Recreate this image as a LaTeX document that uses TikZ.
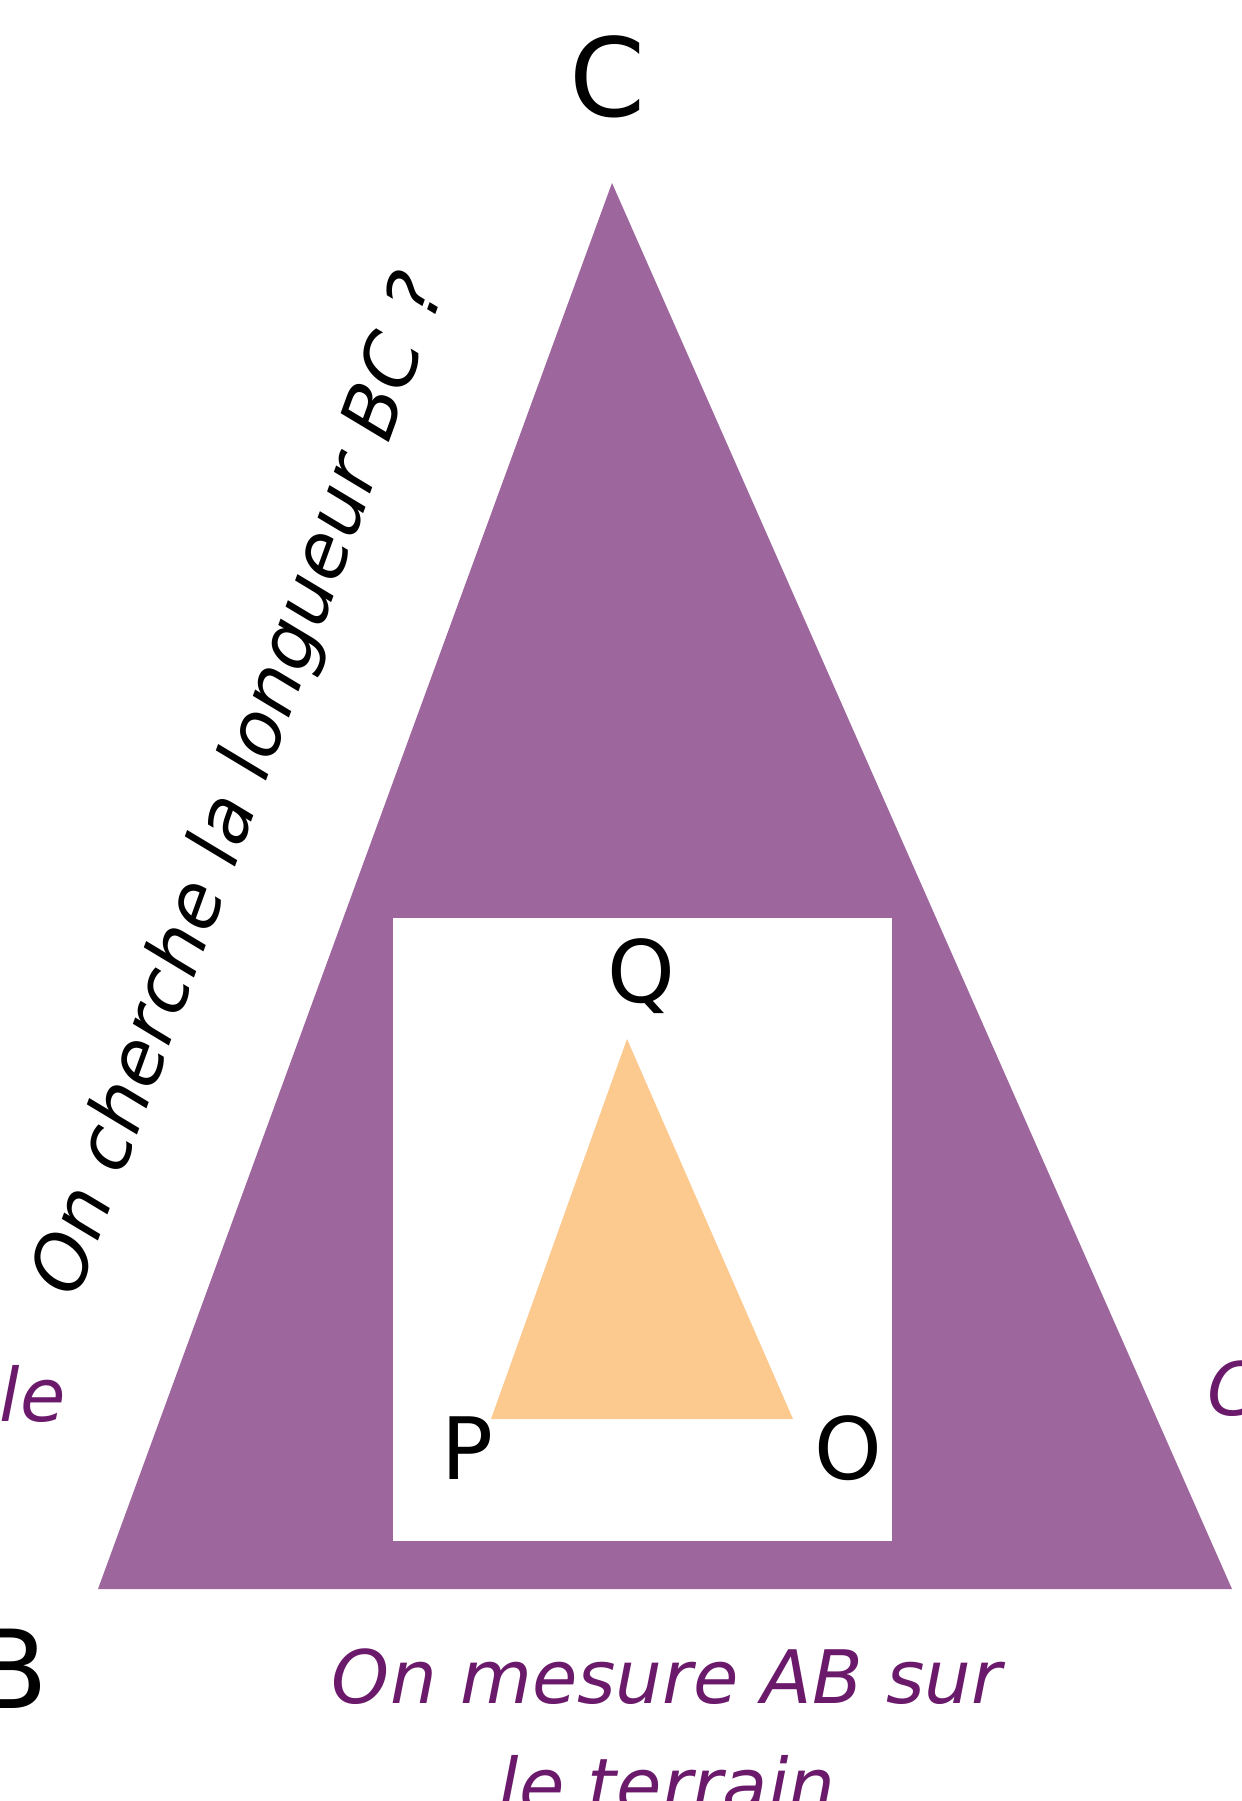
\documentclass[tikz,border=0pt]{standalone}
\usepackage{fontspec}
\setmainfont{DejaVu Sans}

\definecolor{bigtri}{HTML}{9D679D}
\definecolor{smalltri}{HTML}{FCC98E}
\definecolor{notecol}{HTML}{6B1A6B}

\tikzset{
  bigvertex/.style={inner sep=0pt, font=\fontsize{62}{62}\selectfont},
  smallvertex/.style={inner sep=0pt, font=\fontsize{49}{49}\selectfont},
  note/.style={inner sep=0pt, text=notecol, font=\fontsize{42}{61}\selectfont\itshape},
}

\begin{document}
\begin{tikzpicture}[x=0.02cm,y=-0.02cm]
  \useasboundingbox (0,0) rectangle (1241,1801);
  \clip (0,0) rectangle (1241,1801);

  % terrain triangle ABC and the small model PQO
  \fill[bigtri] (98,1589) -- (612,183) -- (1232,1589) -- cycle;
  \fill[white] (393,918) rectangle (892,1541);
  \fill[smalltri] (491,1419) -- (627,1039) -- (793,1419) -- cycle;

  \node[bigvertex,anchor=base] (c) at (608,117) {C};
  \node[bigvertex,anchor=base east] (b) at (49,1708) {B};

  \node[smallvertex,anchor=base] (q) at (641,1002) {Q};
  \node[smallvertex,anchor=base] (p) at (467,1479) {P};
  \node[smallvertex,anchor=base] (o) at (848,1479) {O};

  % notes
  \node[note,text=black,rotate=70,anchor=base,font=\fontsize{43}{61}\selectfont\itshape] (question) at (262,793) {On cherche la longueur BC ?};
  \node[note,align=center,anchor=base] (measure) at (667,1811) {On mesure AB sur\\le terrain};
  \node[note,anchor=base east] (leftnote) at (66,1421) {le};
  \node[note,anchor=base west] (rightnote) at (1207,1415) {C};
\end{tikzpicture}
\end{document}
